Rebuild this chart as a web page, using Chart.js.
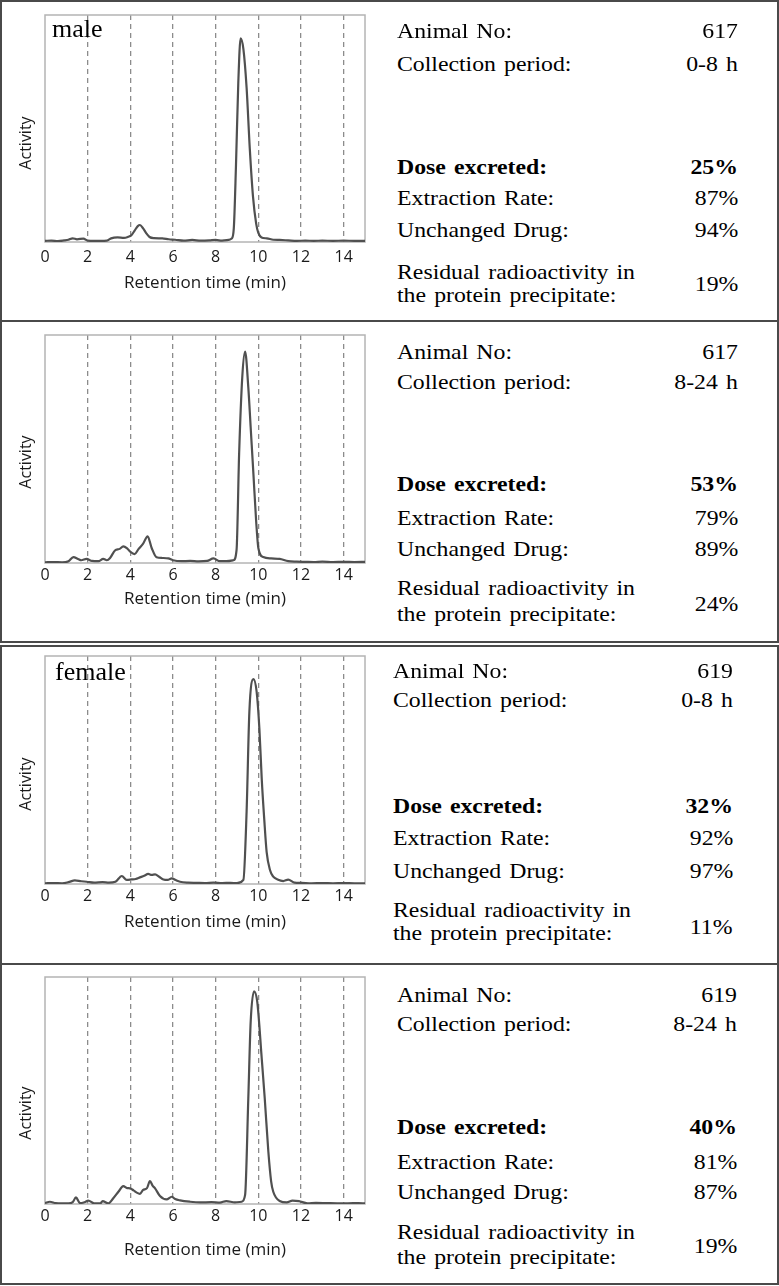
<!DOCTYPE html>
<html>
<head>
<meta charset="utf-8">
<script src="https://cdn.jsdelivr.net/npm/chart.js"></script>
<style>
  body { margin: 0; background: #fff; }
  #page { position: relative; width: 779px; height: 1286px; overflow: hidden; background: #fff; }
  .frame { position: absolute; left: 0; width: 779px; border: 2px solid #4a4a4a; box-sizing: border-box; }
  .plot { position: absolute; left: 0; }
  .info { position: absolute; font-family: "Liberation Serif", "Times New Roman", serif; font-size: 22px;
          line-height: 22px; color: #000; white-space: nowrap; word-spacing: 2px;
          transform: scaleX(1.08); transform-origin: left center; }
  .info.val { transform-origin: right center; text-align: right; }
  .info.bold { font-weight: bold; }
  .ylab { position: absolute; width: 100px; text-align: center; font-family: "Open Sans", sans-serif;
          font-size: 16px; line-height: 20px; color: #1a1a1a; transform: rotate(-90deg); }
  .sex { position: absolute; font-family: "Liberation Serif", serif; font-size: 26px; line-height: 26px; color: #000; }
</style>
</head>
<body>
<div id="page">
  <div class="frame" style="top:0;height:322px"></div>
  <div class="frame" style="top:320px;height:323px"></div>
  <div class="frame" style="top:645px;height:320px"></div>
  <div class="frame" style="top:963px;height:322px"></div>
  <canvas class="plot" id="c0"></canvas>
  <canvas class="plot" id="c1"></canvas>
  <canvas class="plot" id="c2"></canvas>
  <canvas class="plot" id="c3"></canvas>
</div>

<script>
// retention time (min) and activity (% of plot height) for each chromatogram
const timeMale0to8 = [0, 0.3, 0.6, 0.9, 1.1, 1.3, 1.5, 1.8, 2.0, 2.3, 2.6, 2.9, 3.1, 3.4, 3.7, 3.9, 4.05, 4.2, 4.35, 4.45, 4.6, 4.75, 4.9, 5.1, 5.5, 5.8, 6.1, 6.5, 6.9, 7.3, 7.7, 8.0, 8.3, 8.6, 8.75, 8.85, 8.95, 9.06, 9.17, 9.3, 9.45, 9.6, 9.75, 9.9, 10.0, 10.15, 10.4, 10.7, 11.0, 11.4, 11.8, 12.2, 12.6, 13.0, 13.5, 14.0, 14.5, 15];
const actMale0to8  = [0.5, 0.6, 0.4, 0.7, 1.0, 1.6, 1.2, 1.5, 0.6, 0.5, 0.5, 0.6, 1.6, 2.0, 1.8, 2.3, 3.0, 5.0, 7.0, 7.5, 6.0, 3.8, 2.2, 1.7, 1.6, 1.2, 1.0, 0.6, 0.9, 0.6, 0.7, 0.9, 0.6, 0.9, 1.5, 6, 33, 70, 89.7, 85, 68, 41, 20, 8, 4, 2, 1.6, 1.0, 0.9, 0.7, 0.5, 0.6, 0.5, 0.6, 0.5, 0.6, 0.5, 0.5];

const timeMale8to24 = [0, 0.4, 0.8, 1.1, 1.33, 1.55, 1.7, 1.95, 2.2, 2.5, 2.73, 2.9, 3.05, 3.28, 3.5, 3.67, 3.85, 3.98, 4.2, 4.38, 4.6, 4.81, 5.0, 5.23, 5.5, 5.78, 6.0, 6.4, 6.8, 7.2, 7.6, 7.9, 8.2, 8.5, 8.83, 8.98, 9.1, 9.25, 9.38, 9.53, 9.65, 9.77, 9.9, 10.0, 10.23, 10.6, 11.0, 11.4, 11.8, 12.2, 12.6, 13.0, 13.5, 14.0, 14.5, 15];
const actMale8to24  = [0.3, 0.4, 0.3, 0.8, 2.6, 1.8, 1.2, 1.8, 0.9, 0.8, 1.8, 1.2, 2.2, 5.5, 6.2, 7.3, 6.4, 5.1, 3.9, 6.1, 8.5, 11.7, 6.6, 2.5, 2.2, 2.0, 1.2, 0.8, 0.9, 0.7, 0.9, 2.0, 0.8, 0.8, 1.2, 5.8, 48, 82, 92.7, 77, 58, 39, 18, 6.6, 2.6, 2.0, 1.8, 0.8, 0.6, 0.5, 0.4, 0.6, 0.4, 0.5, 0.4, 0.5];

const timeFemale0to8 = [0, 0.4, 0.8, 1.1, 1.4, 1.7, 1.95, 2.3, 2.7, 3.0, 3.3, 3.6, 3.83, 4.06, 4.25, 4.45, 4.65, 4.84, 5.0, 5.16, 5.35, 5.55, 5.75, 5.94, 6.15, 6.33, 6.7, 7.1, 7.5, 7.9, 8.3, 8.7, 9.0, 9.3, 9.45, 9.58, 9.77, 9.92, 10.05, 10.16, 10.28, 10.39, 10.55, 10.7, 10.9, 11.17, 11.4, 11.7, 12.0, 12.5, 13.0, 13.5, 14.0, 14.5, 15];
const actFemale0to8  = [0.3, 0.4, 0.3, 0.8, 1.6, 1.2, 1.0, 0.6, 0.8, 0.6, 1.0, 3.5, 1.8, 2.0, 2.2, 2.9, 3.6, 4.4, 4.0, 4.2, 3.2, 2.0, 1.8, 2.5, 1.6, 1.0, 0.6, 0.5, 0.4, 0.6, 0.4, 0.5, 0.4, 1.8, 31.7, 75.6, 89.9, 84.4, 68, 46, 28, 14, 6, 3.2, 2.0, 1.3, 1.9, 0.6, 0.5, 0.3, 0.4, 0.3, 0.4, 0.3, 0.3];

const timeFemale8to24 = [0, 0.23, 0.5, 0.8, 1.1, 1.3, 1.45, 1.64, 1.85, 2.03, 2.3, 2.6, 2.7, 2.97, 3.2, 3.44, 3.67, 3.85, 3.98, 4.15, 4.3, 4.45, 4.6, 4.78, 4.92, 5.05, 5.16, 5.39, 5.7, 5.94, 6.1, 6.33, 6.8, 7.27, 7.8, 8.2, 8.5, 8.9, 9.22, 9.38, 9.53, 9.64, 9.8, 9.95, 10.16, 10.3, 10.47, 10.6, 10.7, 11.0, 11.33, 11.6, 11.9, 12.3, 12.7, 13.2, 13.7, 14.2, 14.7, 15];
const actFemale8to24  = [0.4, 1.0, 0.4, 0.3, 0.3, 0.8, 2.9, 0.4, 0.8, 1.5, 0.3, 0.3, 1.3, 0.3, 2.5, 5.4, 7.9, 7.0, 6.9, 6.0, 5.0, 4.5, 6.2, 7.0, 10.1, 8.0, 6.9, 3.5, 2.0, 3.2, 2.2, 1.6, 1.0, 0.7, 0.8, 0.6, 1.3, 0.7, 1.0, 4.0, 46.6, 80, 93.7, 89, 64, 46.6, 23, 10, 5.4, 1.3, 0.7, 1.5, 1.3, 0.3, 0.5, 0.4, 0.3, 0.3, 0.4, 0.3];

const xTicks = [0, 2, 4, 6, 8, 10, 12, 14];

// table text
const infoLabels = ['Animal No:', 'Collection period:', 'Dose excreted:', 'Extraction Rate:', 'Unchanged  Drug:',
                    'Residual radioactivity in', 'the protein precipitate:'];
const animalNo = ['617', '617', '619', '619'];
const collectionPeriod = ['0-8 h', '8-24 h', '0-8 h', '8-24 h'];
const doseExcreted = ['25%', '53%', '32%', '40%'];
const extractionRate = ['87%', '79%', '92%', '81%'];
const unchangedDrug = ['94%', '89%', '97%', '87%'];
const residualActivity = ['19%', '24%', '11%', '19%'];
const sexLabels = ['male', '', 'female', ''];

// layout per panel
const panels = [
  { t: timeMale0to8,    a: actMale0to8,    plotTop: 15,  plotBottom: 242,  tickPad: 6, titleGap: 41, ylabY: 143,
    rows: [31, 64, 167, 198, 230, 272, 295, 284], left: 397, right: 738, sexX: 52, sexY: 16 },
  { t: timeMale8to24,   a: actMale8to24,   plotTop: 335, plotBottom: 563,  tickPad: 3, titleGap: 36, ylabY: 462,
    rows: [352, 382, 484, 518, 549, 588, 614, 604], left: 397, right: 738 },
  { t: timeFemale0to8,  a: actFemale0to8,  plotTop: 656, plotBottom: 884,  tickPad: 3, titleGap: 38, ylabY: 784,
    rows: [671, 700, 806, 838, 871, 910, 933, 927], left: 393, right: 733, sexX: 55, sexY: 659 },
  { t: timeFemale8to24, a: actFemale8to24, plotTop: 977, plotBottom: 1204, tickPad: 3, titleGap: 46, ylabY: 1113,
    rows: [995, 1024, 1127, 1162, 1192, 1232, 1257, 1246], left: 397, right: 737 }
];

const page = document.getElementById('page');
function addText(cls, txt, x, y, alignRight) {
  const d = document.createElement('div');
  d.className = cls;
  d.textContent = txt;
  d.style.top = (y - 11) + 'px';
  if (alignRight) d.style.right = (779 - x) + 'px'; else d.style.left = x + 'px';
  page.appendChild(d);
  return d;
}

// grey frame round the plot area
const plotFrame = {
  id: 'plotFrame',
  beforeDatasetsDraw(chart) {
    const { ctx, chartArea: a } = chart;
    ctx.save();
    ctx.strokeStyle = '#b4b4b4';
    ctx.lineWidth = 1.5;
    ctx.strokeRect(a.left, a.top, a.right - a.left, a.bottom - a.top);
    ctx.restore();
  }
};

const padTop = 12, axisH = 75;

panels.forEach((p, i) => {
  const cv = document.getElementById('c' + i);
  const h = (p.plotBottom - p.plotTop) + padTop + axisH;
  cv.width = 380; cv.height = h;
  cv.style.top = (p.plotTop - padTop) + 'px';
  cv.style.width = '380px'; cv.style.height = h + 'px';

  new Chart(cv, {
    type: 'line',
    data: {
      datasets: [{
        data: p.t.map((t, k) => ({ x: t, y: p.a[k] })),
        borderColor: '#505050',
        borderWidth: 2.2,
        pointRadius: 0,
        cubicInterpolationMode: 'monotone',
        fill: false
      }]
    },
    options: {
      responsive: false,
      animation: false,
      devicePixelRatio: 1,
      layout: { padding: { left: 45, right: 15, top: padTop, bottom: 0 } },
      plugins: { legend: { display: false }, tooltip: { enabled: false } },
      scales: {
        x: {
          type: 'linear', min: 0, max: 15,
          afterBuildTicks: s => { s.ticks = xTicks.map(v => ({ value: v })); },
          afterFit: s => { s.height = axisH; },
          grid: {
            drawTicks: false,
            color: c => (c.tick && c.tick.value === 0) ? 'rgba(0,0,0,0)' : '#8c8c8c',
            lineWidth: 1.3
          },
          border: { display: false, dash: [5, 4] },
          ticks: { padding: p.tickPad, color: '#1a1a1a', font: { family: 'Open Sans', size: 16 }, maxRotation: 0 },
          title: {
            display: true, text: 'Retention time (min)', color: '#1a1a1a',
            font: { family: 'Open Sans', size: 17 },
            padding: { top: 0, bottom: axisH - 10.2 - p.titleGap }
          }
        },
        y: { display: false, min: 0, max: 100 }
      }
    },
    plugins: [plotFrame]
  });

  // y axis title
  const yl = document.createElement('div');
  yl.className = 'ylab';
  yl.textContent = 'Activity';
  yl.style.left = (25 - 50) + 'px';
  yl.style.top = (p.ylabY - 10) + 'px';
  page.appendChild(yl);

  if (sexLabels[i]) {
    const s = document.createElement('div');
    s.className = 'sex';
    s.textContent = sexLabels[i];
    s.style.left = p.sexX + 'px';
    s.style.top = p.sexY + 'px';
    page.appendChild(s);
  }

  // info table
  const r = p.rows;
  const vals = [animalNo[i], collectionPeriod[i], doseExcreted[i], extractionRate[i], unchangedDrug[i]];
  infoLabels.forEach((lab, k) => {
    addText('info' + (k === 2 ? ' bold' : ''), lab, p.left, r[k], false);
  });
  vals.forEach((v, k) => {
    addText('info val' + (k === 2 ? ' bold' : ''), v, p.right, r[k], true);
  });
  addText('info val', residualActivity[i], p.right, r[7], true);
});
</script>
</body>
</html>
